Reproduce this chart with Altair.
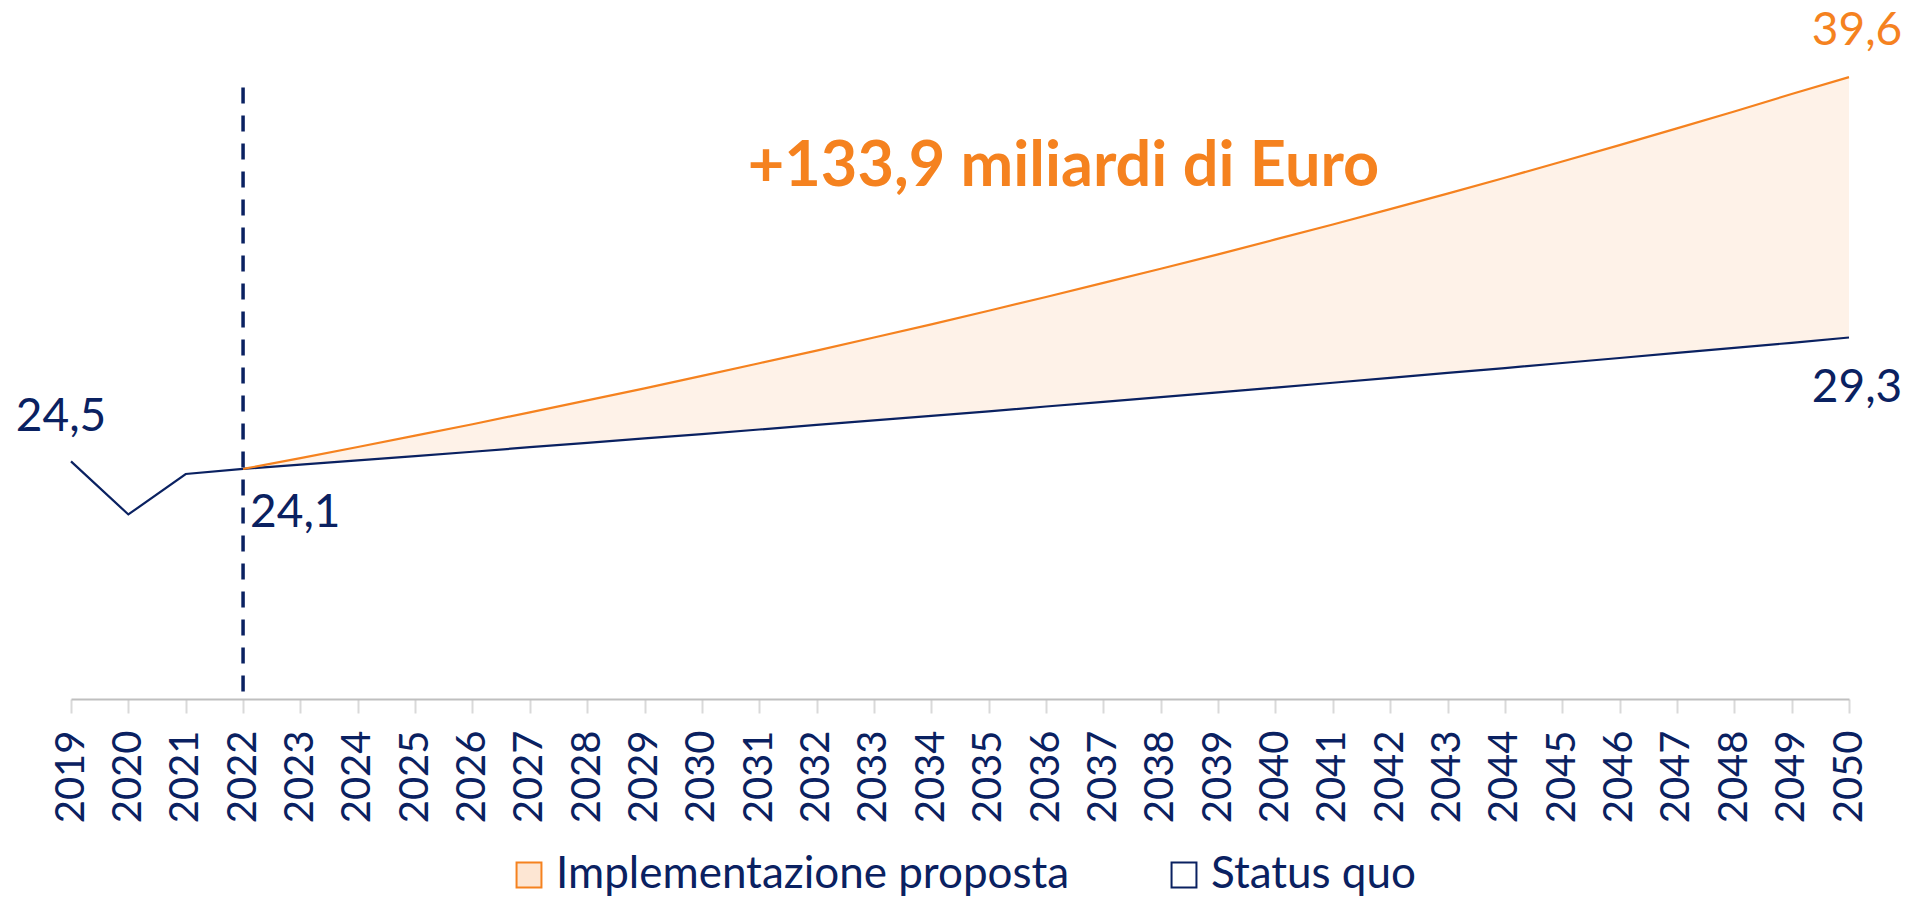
import altair as alt
import pandas as pd

# ---- data ----
years_sq = list(range(2019, 2051))
status_quo = [24.4, 22.3, 23.9, 24.1, 24.27, 24.44, 24.61, 24.78, 24.96, 25.13,
              25.31, 25.48, 25.66, 25.84, 26.02, 26.2, 26.38, 26.57, 26.75, 26.94,
              27.13, 27.32, 27.51, 27.7, 27.9, 28.09, 28.29, 28.49, 28.69, 28.89,
              29.09, 29.3]
years_impl = list(range(2022, 2051))
implementazione = [24.1, 24.53, 24.97, 25.42, 25.87, 26.34, 26.81, 27.29, 27.78, 28.28,
                   28.78, 29.3, 29.82, 30.36, 30.9, 31.46, 32.02, 32.59, 33.18, 33.77,
                   34.38, 34.99, 35.62, 36.26, 36.91, 37.57, 38.24, 38.93, 39.6]

series_names = ["Implementazione proposta", "Status quo"]

# value labels
lab_years = [2019, 2022, 2050, 2050]
lab_values = [24.4, 24.1, 39.6, 29.3]
lab_texts = ["24,5", "24,1", "39,6", "29,3"]

# annotation
anno_text = ["+133,9 miliardi di Euro"]
anno_x = [2030.8]
anno_y = [35.3]

# vertical dashed marker
marker_year = [2022]
marker_from = [15.3]
marker_to = [39.4]

ORANGE = "#F5821F"
NAVY = "#0A2161"
FONT = "Lato"

sq_df = pd.DataFrame({"year": years_sq, "value": status_quo})
impl_df = pd.DataFrame({"year": years_impl, "value": implementazione})
long_df = pd.DataFrame({"year": [2019, 2019], "value": [15.0, 15.0], "serie": series_names})
sq_map = dict(zip(years_sq, status_quo))
area_df = pd.DataFrame({"year": years_impl, "upper": implementazione,
                        "lower": [sq_map[y] for y in years_impl]})

x_scale = alt.Scale(domain=[2019, 2050], nice=False, zero=False)
y_scale = alt.Scale(domain=[15, 40], nice=False, zero=False)

x_axis = alt.Axis(values=years_sq, format="d", labelAngle=270, labelFontSize=40,
                  labelFont=FONT, labelColor=NAVY, labelPadding=17, tickSize=14,
                  tickColor="#D9D9D9", tickWidth=2, domainColor="#BFBFBF",
                  domainWidth=2, grid=False, title=None, labelOverlap=False)

X = alt.X("year:Q", scale=x_scale, axis=x_axis)


def Yv():
    return alt.Y("value:Q", scale=y_scale, axis=None)


area = alt.Chart(area_df).mark_area(color=ORANGE, opacity=0.1).encode(
    x=X,
    y=alt.Y("upper:Q", scale=y_scale, axis=None),
    y2="lower:Q",
)

line_impl = alt.Chart(impl_df).mark_line(color=ORANGE, strokeWidth=2.2).encode(x=X, y=Yv())
line_sq = alt.Chart(sq_df).mark_line(color=NAVY, strokeWidth=2.2).encode(x=X, y=Yv())

marker_df = pd.DataFrame({"year": marker_year, "value": marker_from, "v2": marker_to})
marker = alt.Chart(marker_df).mark_rule(color=NAVY, strokeWidth=3.5,
                                        strokeDash=[16, 12]).encode(
    x=X, y=Yv(), y2="v2:Q"
)

legend_pts = alt.Chart(long_df).mark_point(shape="square", filled=True, opacity=0,
                                           strokeWidth=2).encode(
    x=X,
    y=Yv(),
    fill=alt.Fill("serie:N", scale=alt.Scale(domain=series_names,
                                             range=["#FDE6D3", "#FFFFFF"]),
                  legend=alt.Legend(title=None)),
    stroke=alt.Stroke("serie:N", scale=alt.Scale(domain=series_names,
                                                 range=[ORANGE, NAVY]),
                      legend=alt.Legend(title=None)),
)

lab_df = pd.DataFrame({"year": lab_years, "value": lab_values, "text": lab_texts})
lab_cfg = [
    (0, NAVY, "center", -10, -30),
    (1, NAVY, "left", 7, 58),
    (2, ORANGE, "center", 8, -32),
    (3, NAVY, "center", 8, 65),
]
label_layers = []
for idx, col, al, dx, dy in lab_cfg:
    label_layers.append(
        alt.Chart(lab_df.iloc[[idx]]).mark_text(
            font=FONT, fontSize=46, color=col, align=al, baseline="alphabetic",
            dx=dx, dy=dy
        ).encode(x=X, y=Yv(), text="text:N")
    )

anno_df = pd.DataFrame({"year": anno_x, "value": anno_y, "text": anno_text})
anno = alt.Chart(anno_df).mark_text(
    font=FONT, fontSize=63, fontWeight="bold", color=ORANGE, align="left",
    baseline="alphabetic"
).encode(x=X, y=Yv(), text="text:N")

chart = alt.layer(area, line_sq, line_impl, marker, legend_pts, *label_layers, anno).properties(
    width=1778, height=632,
    autosize=alt.AutoSizeParams(type="none"),
    padding={"left": 63, "top": 59, "right": 61, "bottom": 199},
).configure_view(stroke=None).configure_legend(
    orient="none", legendX=436, legendY=786, direction="horizontal",
    symbolType="square", symbolSize=620, symbolStrokeWidth=2, symbolOpacity=1,
    labelFont=FONT, labelFontSize=44, labelColor=NAVY, labelOffset=5,
    columnPadding=92, labelLimit=1000, padding=0,
)

chart.save("out.html", embed_options={"renderer": "svg", "actions": False})
